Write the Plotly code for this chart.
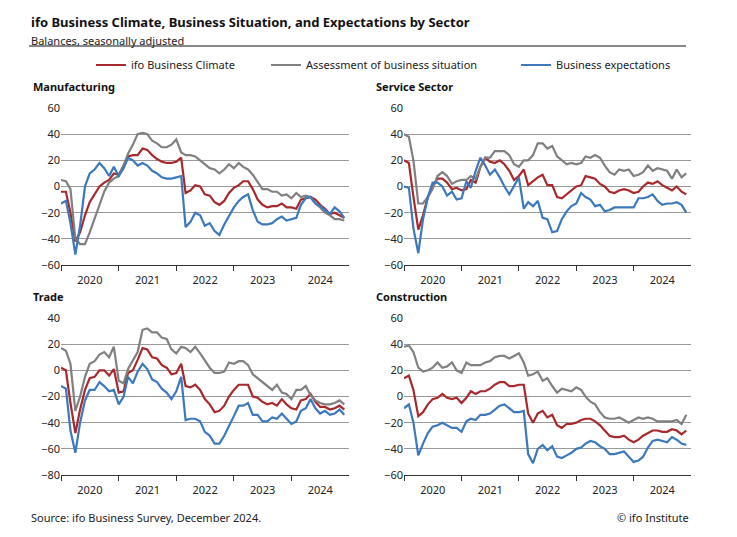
import pandas as pd
import plotly.graph_objects as go

months = pd.date_range("2020-01-01", "2024-12-01", freq="MS")

man_climate = [-4,-4,-20,-42,-35,-22,-12,-6,0,3,5,10, 9,16,23,24,24,29,28,24,21,19,18,18,
               19,22,-5,-3,1,0,-6,-7,-12,-14,-11,-5, -1,1,4,4,-2,-10,-14,-16,-15,-15,-13,-16,
               -16,-17,-10,-9,-8,-10,-14,-17,-21,-20,-22,-24]
man_situation = [5,4,-2,-40,-44,-44,-35,-24,-14,-4,3,6, 8,16,25,32,40,41,40,35,33,30,30,32,
                 36,26,24,24,23,20,17,14,13,10,13,17, 14,18,15,13,9,3,-2,-2,-4,-4,-7,-6,
                 -9,-5,-8,-7,-8,-13,-16,-20,-22,-25,-25,-26]
man_expect = [-13,-11,-28,-52,-30,0,10,13,18,14,8,15, 8,14,22,20,16,18,16,12,10,7,6,6,
              7,8,-31,-27,-20,-22,-30,-28,-34,-37,-29,-22, -16,-11,-8,-6,-18,-27,-29,-29,-28,-25,-23,-26,
              -25,-24,-14,-9,-8,-13,-15,-18,-21,-16,-19,-24]

ser_climate = [20,18,-8,-33,-22,-8,0,6,6,3,-2,-1, -3,-2,5,3,15,22,19,18,20,17,12,5,
               8,13,1,4,7,9,1,1,-8,-9,-6,-3, 0,1,8,7,6,2,0,-4,-5,-3,-2,-3,
               -5,-4,0,3,2,4,1,-1,-3,0,-4,-6]
ser_situation = [40,38,20,-13,-13,-8,-2,8,11,8,2,4, 5,5,8,6,15,22,22,27,27,27,24,17,
                 15,20,20,24,33,33,29,31,23,20,17,18, 17,18,23,22,24,22,16,11,9,13,12,13,
                 8,9,11,16,12,14,13,12,6,13,7,10]
ser_expect = [0,-1,-32,-51,-25,-8,3,3,0,-7,-4,-10, -9,4,-1,12,22,16,9,13,7,0,-6,1,
              7,-17,-12,-15,-11,-24,-25,-35,-34,-25,-19,-15, -13,-5,-8,-10,-15,-14,-19,-18,-16,-16,-16,-16,
              -16,-9,-9,-8,-6,-11,-14,-13,-13,-12,-14,-20]

tra_climate = [2,0,-25,-48,-30,-15,-6,-5,0,0,-4,1, -17,-16,-2,0,8,17,16,10,9,4,2,-3,
               -2,5,-12,-13,-11,-15,-22,-26,-32,-31,-27,-20, -15,-11,-11,-11,-20,-21,-24,-26,-25,-27,-22,-26,
               -29,-30,-23,-22,-18,-24,-28,-28,-30,-29,-27,-30]
tra_situation = [17,15,5,-31,-20,-5,5,7,12,14,10,18, -8,-10,1,8,14,31,32,29,29,25,24,16,
                 13,18,17,14,18,13,8,2,-2,-2,-1,6, 5,7,7,4,-3,-6,-9,-12,-15,-11,-17,-18,
                 -22,-15,-15,-12,-19,-23,-25,-26,-26,-25,-23,-26]
tra_expect = [-12,-14,-46,-63,-40,-23,-15,-15,-9,-12,-16,-15, -26,-20,-5,-10,-1,5,1,-7,-9,-14,-17,-22,
              -16,-5,-38,-37,-37,-39,-47,-50,-56,-56,-50,-43, -35,-27,-27,-25,-34,-34,-39,-39,-36,-37,-33,-37,
              -41,-39,-31,-29,-22,-29,-33,-31,-34,-33,-30,-34]

con_climate = [14,16,5,-15,-12,-6,-2,-1,2,-1,-2,-1, -5,-1,4,2,4,4,6,9,11,11,8,8,
               9,9,-13,-20,-13,-11,-16,-14,-22,-24,-21,-21, -20,-18,-17,-17,-19,-22,-26,-30,-31,-31,-30,-33,
               -35,-33,-30,-28,-26,-26,-27,-27,-25,-26,-29,-26]
con_situation = [38,39,34,22,19,20,22,26,22,23,26,20, 18,26,24,24,24,26,27,30,31,31,29,31,
                 33,26,16,17,19,12,14,8,3,6,5,4, 7,5,0,-4,-6,-12,-16,-17,-17,-16,-18,-20,
                 -18,-16,-17,-16,-17,-19,-19,-19,-19,-18,-21,-14]
con_expect = [-9,-6,-20,-45,-36,-28,-23,-22,-20,-22,-24,-24, -27,-19,-17,-18,-14,-14,-13,-10,-7,-6,-9,-12,
              -12,-11,-44,-51,-40,-37,-41,-38,-46,-47,-45,-43, -40,-39,-36,-34,-35,-38,-40,-44,-44,-43,-42,-46,
              -50,-49,-46,-39,-34,-33,-34,-35,-31,-33,-36,-37]

series_names = ["ifo Business Climate", "Assessment of business situation", "Business expectations"]
colors = ["#a8292c", "#808080", "#3b78bc"]
legend_ids = ["legend", "legend2", "legend3"]
legend_x = [92, 267, 517]
panels = [
    ("Manufacturing", [man_climate, man_situation, man_expect], [-60, 60], 20),
    ("Service Sector", [ser_climate, ser_situation, ser_expect], [-60, 60], 20),
    ("Trade", [tra_climate, tra_situation, tra_expect], [-80, 40], 20),
    ("Construction", [con_climate, con_situation, con_expect], [-60, 60], 20),
]
W, H = 737, 537
DX, DY = 9, 8
def px(x): return (x - DX) / W
def py(y): return 1 - (y - DY) / H

xdoms = [[px(62), px(350)], [px(405), px(692)]]
ydoms = [[py(265), py(108)], [py(475), py(318)]]

fig = go.Figure()
font = "Noto Sans"
for i, (title, data, yr, dt) in enumerate(panels):
    r, c = divmod(i, 2)
    sfx = "" if i == 0 else str(i+1)
    for j, vals in enumerate(data):
        fig.add_trace(go.Scatter(x=months, y=vals, mode="lines", name=series_names[j],
                                 line=dict(color=colors[j], width=2.2), showlegend=(i == 0),
                                 legend=legend_ids[j], xaxis="x"+sfx, yaxis="y"+sfx))
    fig.layout["xaxis"+sfx] = dict(domain=xdoms[c], anchor="y"+sfx, type="date",
        range=["2020-01-01", "2024-12-31"], dtick="M12", tick0="2020-01-01",
        ticklabelmode="period", tickformat="%Y", ticks="outside", ticklen=5,
        tickcolor="#333", showline=True, linecolor="#333", linewidth=1, showgrid=False,
        tickfont=dict(size=11, color="#222"))
    fig.layout["yaxis"+sfx] = dict(domain=ydoms[r], anchor="x"+sfx, range=yr, dtick=dt,
        showgrid=True, gridcolor="#9a9a9a", gridwidth=1, zeroline=False, ticks="",
        tickfont=dict(size=11, color="#222"))
    fig.add_annotation(text="<b>"+title+"</b>", xref="paper", yref="paper",
        x=xdoms[c][0] - 30/W, y=ydoms[r][1] + 12/H, xanchor="left", yanchor="bottom",
        showarrow=False, font=dict(size=11, color="#111"))

for j in range(3):
    fig.layout[legend_ids[j]] = dict(x=px(legend_x[j]), xanchor="left", y=py(65), yanchor="middle",
        orientation="h", bgcolor="rgba(0,0,0,0)", font=dict(size=11, color="#222"), itemwidth=30)

fig.add_annotation(text="<b>ifo Business Climate, Business Situation, and Expectations by Sector</b>",
    xref="paper", yref="paper", x=px(30), y=py(11), xanchor="left", yanchor="top",
    showarrow=False, font=dict(size=13, color="#111"))
fig.add_annotation(text="Balances, seasonally adjusted", xref="paper", yref="paper",
    x=px(30), y=py(31), xanchor="left", yanchor="top", showarrow=False, font=dict(size=11, color="#222"))
fig.add_annotation(text="Source: ifo Business Survey, December 2024.", xref="paper", yref="paper",
    x=px(30), y=py(517), xanchor="left", yanchor="middle", showarrow=False, font=dict(size=11, color="#222"))
fig.add_annotation(text="© ifo Institute", xref="paper", yref="paper",
    x=px(692), y=py(517), xanchor="right", yanchor="middle", showarrow=False, font=dict(size=11, color="#222"))
fig.add_shape(type="line", xref="paper", yref="paper", x0=px(30), x1=px(687), y0=py(46), y1=py(46),
    line=dict(color="#111", width=1.2))

fig.update_layout(width=W, height=H, margin=dict(l=0, r=0, t=0, b=0, autoexpand=False),
    paper_bgcolor="white", plot_bgcolor="white", font=dict(family=font, color="#222"))
fig.write_html("out.html")
